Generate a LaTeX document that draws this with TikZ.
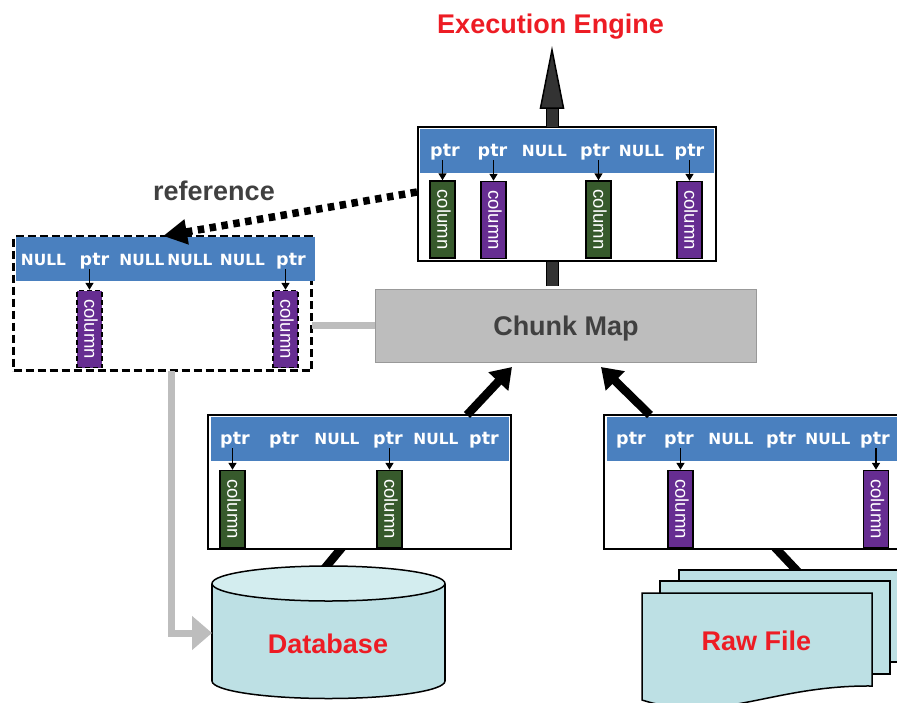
\documentclass[tikz,border=0pt]{standalone}
\usepackage{fontspec}
\setmainfont{Liberation Sans}
\newfontfamily\dejavu{DejaVu Sans}
\usetikzlibrary{arrows.meta,calc,backgrounds,shapes.geometric}
\definecolor{bandblue}{HTML}{4A80BF}
\definecolor{colgreen}{HTML}{375A2C}
\definecolor{colpurple}{HTML}{662D91}
\definecolor{titlered}{HTML}{ED1C24}
\definecolor{darkgrey}{HTML}{404040}
\definecolor{fatgrey}{HTML}{333333}
\definecolor{mapgrey}{HTML}{BDBDBD}
\definecolor{cyan1}{HTML}{BDE0E4}
\definecolor{cyan2}{HTML}{D3EDEF}
\tikzset{
  chunkbox/.style={draw=black,line width=2pt,fill=white,minimum width=#1,minimum height=134pt,inner sep=0pt},
  dashbox/.style={draw=black,line width=2.6pt,dash pattern=on 8pt off 4pt,fill=white,minimum width=#1,minimum height=134pt,inner sep=0pt},
  band/.style={fill=bandblue,minimum width=#1,minimum height=44pt,inner sep=0pt},
  colbox/.style={draw=black,line width=1.5pt,minimum width=25pt,minimum height=77pt,inner sep=0pt,text=white},
  greenbox/.style={colbox,fill=colgreen},
  purplebox/.style={colbox,fill=colpurple},
  dashpurple/.style={colbox,fill=colpurple,dash pattern=on 5pt off 3pt},
  ptrlab/.style={text=white,inner sep=0pt,yshift=-1pt,font=\dejavu\bfseries\fontsize{17.5}{18}\selectfont},
  nulllab/.style={text=white,inner sep=0pt,yshift=-1pt,font=\dejavu\bfseries\fontsize{15.4}{18}\selectfont},
  title/.style={inner sep=0pt,font=\bfseries\fontsize{#1}{30}\selectfont},
  ptrarrow/.style={black,line width=1.6pt,-{Triangle[length=7pt,width=8pt]}},
  blackfat/.style={black,line width=8.5pt},
  blackarrow/.style={blackfat,-{Triangle[length=20pt,width=26pt]}},
  greyline/.style={mapgrey,line width=7pt},
  darkshaft/.style={draw=fatgrey,line width=11pt,preaction={draw=black,line width=13pt}},
  sheet/.style={draw=black,line width=1.5pt,fill=cyan1},
  cylside/.style={draw=black,line width=1.5pt},
}
\newcommand{\colvert}{\hspace{3pt}\rotatebox{-90}{\fontsize{18.5}{18}\selectfont column}}
\begin{document}
\begin{tikzpicture}[x=1pt,y=-1pt]
\useasboundingbox (0,0) rectangle (897,702);
\clip (0,0) rectangle (897,702);

% Database cylinder
\fill[cyan1,cylside] (328.5,681) ellipse [x radius=116.5,y radius=17.5];
\fill[cyan1] (212,584) rectangle (445,681);
\draw[cylside] (212,584) -- (212,681) (445,584) -- (445,681);
\node[ellipse,draw=black,line width=1.5pt,fill=cyan2,minimum width=233pt,minimum height=35pt,inner sep=0pt] (dbtop) at (328.5,583.5) {};
\node[title=27,text=titlered] (db) at (328,644) {Database};

% Raw file sheets
\draw[sheet] (679,662) -- (679,570) -- (915,570) -- (915,662) -- cycle;
\draw[sheet] (660,674) -- (660,581) -- (890,581) -- (890,674) -- cycle;
\draw[sheet] (642,700) -- (642,593) -- (872,593) -- (872,686) .. controls (770,685) and (720,725) .. (642,700) -- cycle;
\node[title=27,text=titlered] (raw) at (756.5,641) {Raw File};

% Chunk Map
\node[draw=black!40,line width=1pt,fill=mapgrey,minimum width=381pt,minimum height=73pt,inner sep=0pt,text=darkgrey,text height=20pt,text depth=0pt,font=\bfseries\fontsize{27}{30}\selectfont] (map) at (566,325.5) {Chunk Map};

% Top chunk
\node[chunkbox=298pt] (top) at (567,194) {};
\node[band=294pt] (topband) at (567,150.5) {};
\node[greenbox] (c1) at (442.5,219.5) {\colvert};
\node[purplebox] (c2) at (493.5,220) {\colvert};
\node[greenbox] (c3) at (598.5,219.5) {\colvert};
\node[purplebox] (c4) at (689.5,220) {\colvert};
\node[ptrlab] (p1) at (445,151) {ptr};
\node[ptrlab] (p2) at (492.5,151) {ptr};
\node[nulllab] (n1) at (544.5,150) {NULL};
\node[ptrlab] (p3) at (595,151) {ptr};
\node[nulllab] (n2) at (641.5,150) {NULL};
\node[ptrlab] (p4) at (689.5,151) {ptr};
\draw[ptrarrow] (p1.south -| c1.north) -- (c1.north);
\draw[ptrarrow] (p2.south -| c2.north) -- (c2.north);
\draw[ptrarrow] (p3.south -| c3.north) -- (c3.north);
\draw[ptrarrow] (p4.south -| c4.north) -- (c4.north);

% Left (referenced) chunk
\node[dashbox=298pt] (left) at (162.5,303.6) {};
\node[band=299pt] (leftband) at (165.5,259) {};
\node[dashpurple] (c5) at (89.5,329) {\colvert};
\node[dashpurple] (c6) at (285.5,329) {\colvert};
\node[nulllab] (n3) at (43.5,259) {NULL};
\node[ptrlab] (p5) at (94.5,260) {ptr};
\node[nulllab] (n4) at (142,259) {NULL};
\node[nulllab] (n5) at (190,259) {NULL};
\node[nulllab] (n6) at (242.5,259) {NULL};
\node[ptrlab] (p6) at (291,260) {ptr};
\draw[ptrarrow] (p5.south -| c5.north) -- (c5.north);
\draw[ptrarrow] (p6.south -| c6.north) -- (c6.north);

% Database chunk
\node[chunkbox=303pt] (dbchunk) at (359.5,482) {};
\node[band=298pt] (dbband) at (360,439) {};
\node[greenbox] (c7) at (232.5,509) {\colvert};
\node[greenbox] (c8) at (389.5,509) {\colvert};
\node[ptrlab] (p7) at (235,439) {ptr};
\node[ptrlab] (p8) at (284,439) {ptr};
\node[nulllab] (n7) at (337,438) {NULL};
\node[ptrlab] (p9) at (388,439) {ptr};
\node[nulllab] (n8) at (436,438) {NULL};
\node[ptrlab] (p10) at (484,439) {ptr};
\draw[ptrarrow] (p7.south -| c7.north) -- (c7.north);
\draw[ptrarrow] (p9.south -| c8.north) -- (c8.north);

% Raw file chunk
\node[chunkbox=298pt] (rawchunk) at (753,482) {};
\node[band=296pt] (rawband) at (755,439) {};
\node[purplebox] (c9) at (680.5,509) {\colvert};
\node[purplebox] (c10) at (876,509) {\colvert};
\node[ptrlab] (p11) at (631,439) {ptr};
\node[ptrlab] (p12) at (679,439) {ptr};
\node[nulllab] (n9) at (731,438) {NULL};
\node[ptrlab] (p13) at (781,439) {ptr};
\node[nulllab] (n10) at (828,438) {NULL};
\node[ptrlab] (p14) at (875,439) {ptr};
\draw[ptrarrow] (p12.south -| c9.north) -- (c9.north);
\draw[ptrarrow] (p14.south -| c10.north) -- (c10.north);

% Titles
\node[title=27,text=titlered] (exec) at (550.5,26.5) {Execution Engine};
\node[title=27,text=darkgrey] (reflab) at (214,190.5) {reference};

% Connectors
\coordinate (execTip) at (552,48);
\coordinate (topUp) at (552,127);
\coordinate (topDown) at (552,261);
\coordinate (mapUp) at (552,286);
\coordinate (dbOut) at (467,415);
\coordinate (dbIn) at (512,367);
\coordinate (rawOut) at (650,415);
\coordinate (rawIn) at (601,367);
\coordinate (dbA) at (320,574);
\coordinate (dbB) at (349,539);
\coordinate (rawA) at (800,574);
\coordinate (rawB) at (767,539);
\coordinate (refStart) at (417,192);
\coordinate (refEnd) at (163,236);
\coordinate (greyTurn) at (171,633);
\coordinate (leftOut) at (171,371);
\coordinate (leftIn) at (312,325);
\coordinate (mapIn) at (375,325);
\coordinate (dbIn2) at (212,633);

\begin{scope}[on background layer]
  \draw[blackfat] (dbA) -- (dbB);
  \draw[blackfat] (rawA) -- (rawB);
  \draw[darkshaft] (mapUp) -- (topDown);
\end{scope}
\draw[blackarrow] (dbOut) -- (dbIn);
\draw[blackarrow] (rawOut) -- (rawIn);
\draw[darkshaft] (topUp) -- ($(topUp)!0.35!(execTip)$);
\draw[black,line width=1.5pt,fill=fatgrey] ($(execTip)+(0,2)$) -- (563.5,108) -- (540.5,108) -- cycle;
\draw[greyline] (leftIn) -- (mapIn);
\draw[greyline,-{Triangle[length=20pt,width=33pt]}] (leftOut) -- (greyTurn) -- (dbIn2);
\draw[black,line width=7.5pt,dash pattern=on 6.5pt off 5.5pt,-{Triangle[length=24pt,width=24pt,sep=0pt]}] (refStart) -- (refEnd);
\end{tikzpicture}
\end{document}
